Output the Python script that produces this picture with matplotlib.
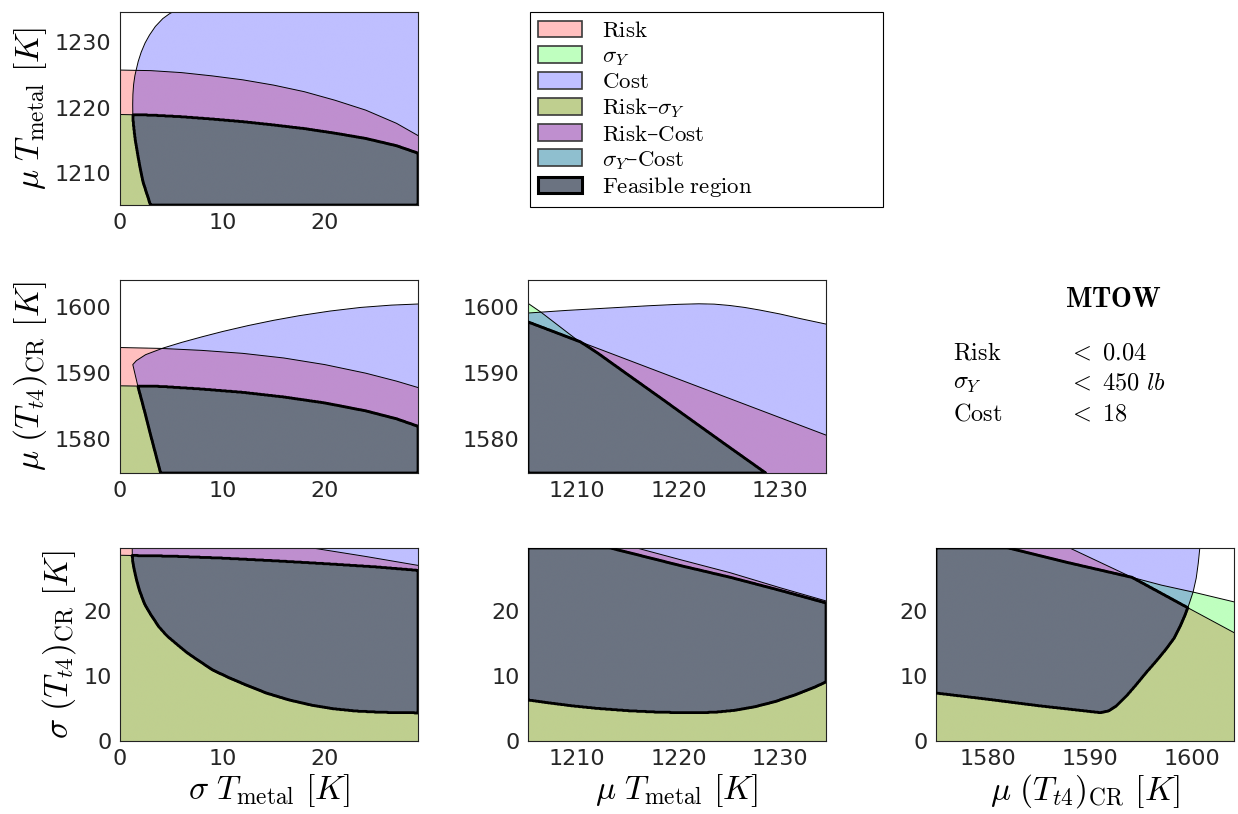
import numpy as np
import matplotlib
matplotlib.use("Agg")
import matplotlib.pyplot as plt
from matplotlib.path import Path
from matplotlib.patches import Patch
from matplotlib.colors import to_rgb

plt.rcParams["mathtext.fontset"] = "cm"
plt.rcParams["font.family"] = ["DejaVu Sans"]

# axis ranges of the four variables
sig_tmetal_lim = (0.0, 29.1)
mu_tmetal_lim = (1205.2, 1234.5)
mu_tt4_lim = (1574.9, 1604.1)
sig_tt4_lim = (0.0, 29.6)

# constraint boundaries, (x, y) pairs
# panel A: sigma T_metal (x) vs mu T_metal (y)
a_risk = [(-0.5, 1225.7), (3, 1225.6), (6, 1225.3), (9, 1224.8), (12, 1224.2), (15, 1223.4),
          (18, 1222.4), (21, 1221.1), (24, 1219.6), (27, 1217.6), (29.6, 1215.3)]
a_sigy = [(-0.5, 1218.95), (3, 1218.85), (6, 1218.6), (9, 1218.25), (12, 1217.85),
          (15, 1217.35), (18, 1216.8), (21, 1216.1), (24, 1215.3), (27, 1214.2), (29.6, 1212.8)]
a_cost = [(3.2, 1204.0), (3.04, 1204.9), (2.6, 1207.0), (2.23, 1208.8), (1.92, 1211.2),
          (1.67, 1213.4), (1.48, 1215.2), (1.35, 1216.9), (1.27, 1218.2), (1.25, 1219.0),
          (1.24, 1220.5), (1.26, 1222.0), (1.33, 1223.5), (1.45, 1224.8), (1.58, 1225.7),
          (1.78, 1227.0), (2.07, 1228.4), (2.45, 1229.8), (2.88, 1231.0), (3.45, 1232.3),
          (4.18, 1233.5), (4.8, 1234.2), (5.48, 1234.8), (6.6, 1235.6)]

# panel B: sigma T_metal (x) vs mu (T_t4)_CR (y)
b_risk = [(-0.5, 1593.9), (4, 1593.75), (8, 1593.45), (12, 1593.0), (16, 1592.3),
          (20, 1591.3), (24, 1590.0), (27, 1588.8), (29.6, 1587.6)]
b_sigy = [(-0.5, 1588.1), (4, 1588.0), (8, 1587.6), (12, 1587.1), (16, 1586.4),
          (20, 1585.5), (24, 1584.3), (27, 1583.1), (29.6, 1581.7)]
b_cost = [(4.05, 1574.4), (3.1, 1580.0), (2.27, 1585.0), (1.75, 1588.0), (1.25, 1591.3),
          (1.6, 1591.9), (2.5, 1592.8), (4.2, 1593.8), (6, 1594.65), (8, 1595.5),
          (10, 1596.3), (12.5, 1597.2), (15, 1598.0), (17.5, 1598.7), (20.5, 1599.4),
          (23.5, 1599.95), (26.5, 1600.3), (29.6, 1600.5)]

# panel C: mu T_metal (x) vs mu (T_t4)_CR (y)
c_risk = [(1204.7, 1598.05), (1220.0, 1589.1), (1234.9, 1580.4)]
c_sigy = [(1204.7, 1601.1), (1206.5, 1599.2), (1209.8, 1595.3), (1212, 1593.1),
          (1215, 1589.8), (1218.2, 1586.3), (1222, 1582.1), (1225, 1578.8),
          (1228.3, 1575.2), (1229, 1574.4)]
c_cost = [(1204.7, 1599.05), (1209, 1599.5), (1213, 1599.85), (1217, 1600.2),
          (1220, 1600.42), (1222, 1600.5), (1223.5, 1600.45), (1225, 1600.25),
          (1226.5, 1599.95), (1228, 1599.55), (1230, 1598.95), (1232, 1598.25),
          (1234.9, 1597.3)]

# panel D: sigma T_metal (x) vs sigma (T_t4)_CR (y)
d_risk = [(-0.5, 34.5), (10, 31.9), (19, 29.55), (24, 28.3), (29.6, 26.8)]
d_sigy = [(-0.5, 28.5), (5, 28.35), (10, 28.05), (15, 27.65), (20, 27.2), (25, 26.7),
          (29.6, 26.1)]
d_cost = [(1.19, 30.2), (1.2, 28.5), (1.22, 27.8), (1.3, 27.0), (1.41, 26.15), (1.6, 24.8),
          (1.9, 23.1), (2.4, 21.0), (3.0, 19.4), (3.8, 17.5), (4.6, 16.1), (5.5, 14.9),
          (6.5, 13.6), (7.7, 12.3), (9.0, 10.95), (10.5, 9.8), (12.3, 8.6), (14.3, 7.35),
          (16.5, 6.3), (18.7, 5.5), (20.8, 4.95), (23, 4.6), (25.5, 4.4), (29.6, 4.3)]

# panel E: mu T_metal (x) vs sigma (T_t4)_CR (y)
e_risk = [(1204.7, 34.6), (1210, 32.1), (1215.9, 29.6), (1220.2, 27.8), (1225.1, 25.8),
          (1230, 23.5), (1234.9, 21.3)]
e_sigy = [(1204.7, 33.0), (1213.3, 29.6), (1220.2, 26.9), (1225.1, 25.1), (1230, 23.1),
          (1234.9, 21.0)]
e_cost = [(1204.7, 6.4), (1207, 5.9), (1209.5, 5.4), (1212, 5.0), (1215, 4.65),
          (1218, 4.42), (1221, 4.33), (1223.5, 4.4), (1225.5, 4.7), (1227.5, 5.25),
          (1229.5, 6.05), (1231.5, 7.1), (1233.3, 8.2), (1234.9, 9.35)]

# panel F: mu (T_t4)_CR (x) vs sigma (T_t4)_CR (y)
f_risk = [(1574.5, 39.6), (1588.0, 29.6), (1594.1, 25.1), (1599.5, 20.5), (1604.6, 16.2)]
f_sigy = [(1574.5, 32.4), (1582.0, 29.6), (1588, 27.3), (1594.1, 25.1), (1597, 23.9),
          (1600.2, 22.8), (1604.6, 21.15)]
f_cost = [(1574.5, 7.43), (1580, 6.4), (1585, 5.4), (1591.0, 4.35), (1591.8, 4.6),
          (1592.6, 5.4), (1593.5, 6.8), (1594.5, 8.6), (1595.5, 10.5), (1596.5, 12.3),
          (1597.4, 14.0), (1598.2, 15.7), (1598.8, 17.5), (1599.3, 19.3), (1599.7, 21.0),
          (1600.1, 22.9), (1600.4, 25.0), (1600.6, 27.3), (1600.75, 29.6), (1600.8, 30.2)]

region_names = [r"$\mathrm{Risk}$", r"$\sigma_Y$", r"$\mathrm{Cost}$",
                r"$\mathrm{Risk}$–$\sigma_Y$", r"$\mathrm{Risk}$–$\mathrm{Cost}$",
                r"$\sigma_Y$–$\mathrm{Cost}$", r"$\mathrm{Feasible\ region}$"]
# index = risk*1 + sigma_Y*2 + cost*4 (which constraints are met)
palette_hex = ["#ffffff", "#ffbfbf", "#bfffbf", "#bfcf8f",
               "#bfbfff", "#bf8fcf", "#8fbfcf", "#6b7381"]
legend_codes = [1, 2, 4, 3, 5, 6, 7]

summary_names = [r"$\mathrm{Risk}$", r"$\sigma_Y$", r"$\mathrm{Cost}$"]
summary_limits = [r"$<\ 0.04$", r"$<\ 450\ lb$", r"$<\ 18$"]

lbl_sig_tmetal = r"$\sigma\ T_{\rm metal}\ [K]$"
lbl_mu_tmetal = r"$\mu\ T_{\rm metal}\ [K]$"
lbl_mu_tt4 = r"$\mu\ (T_{t4})_{\rm CR}\ [K]$"
lbl_sig_tt4 = r"$\sigma\ (T_{t4})_{\rm CR}\ [K]$"

palette = np.array([to_rgb(c) for c in palette_hex])
LABEL_FS = 24


def region_path(pts, side, xlim, ylim):
    wx = xlim[1] - xlim[0]
    wy = ylim[1] - ylim[0]
    lx, hx = xlim[0] - wx, xlim[1] + wx
    ly, hy = ylim[0] - wy, ylim[1] + wy
    (x0, y0), (x1, y1) = pts[0], pts[-1]
    tail = {
        "below": [(x1, ly), (x0, ly)],
        "above": [(x1, hy), (x0, hy)],
        "right": [(hx, y1), (hx, y0)],
        "bottom_right": [(hx, y1), (hx, ly), (x0, ly)],
        "top_right": [(hx, y1), (hx, hy), (x0, hy)],
        "top_left": [(x1, hy), (lx, hy), (lx, y0)],
    }[side]
    return Path(list(pts) + tail)


def draw_panel(ax, xlim, ylim, risk, sigy, cost, cost_side):
    xs = np.linspace(xlim[0], xlim[1], 700)
    ys = np.linspace(ylim[0], ylim[1], 460)
    gx, gy = np.meshgrid(xs, ys)
    pts = np.column_stack([gx.ravel(), gy.ravel()])
    ok_r = region_path(risk, "below", xlim, ylim).contains_points(pts)
    ok_s = region_path(sigy, "below", xlim, ylim).contains_points(pts)
    ok_c = region_path(cost, cost_side, xlim, ylim).contains_points(pts)
    code = (ok_r * 1 + ok_s * 2 + ok_c * 4).reshape(gx.shape)
    ax.imshow(palette[code], extent=(xlim[0], xlim[1], ylim[0], ylim[1]),
              origin="lower", aspect="auto", interpolation="antialiased", zorder=0)
    for curve in (risk, sigy, cost):
        cx, cy = zip(*curve)
        ax.plot(cx, cy, color="k", lw=0.7, zorder=2)
    # outline of the feasible region, padded so the edges close on the frame
    feas = np.pad((code == 7).astype(float), 1)
    ex = 1e-4 * (xlim[1] - xlim[0])
    ey = 1e-4 * (ylim[1] - ylim[0])
    px = np.concatenate([[xlim[0] - ex], xs, [xlim[1] + ex]])
    py = np.concatenate([[ylim[0] - ey], ys, [ylim[1] + ey]])
    ax.contour(px, py, feas, levels=[0.5], colors="k", linewidths=2.0, zorder=3)
    ax.set_xlim(xlim)
    ax.set_ylim(ylim)
    ax.tick_params(length=0, labelsize=16, colors="#262626", pad=6)
    for sp in ax.spines.values():
        sp.set_linewidth(0.8)
        sp.set_color("#222222")


fig = plt.figure(figsize=(12.38, 8.14), dpi=100)
W, H = 1238.0, 814.0
col_left = [120, 528, 936]
row_top = [12, 280, 548]
aw, ah = 298, 193


def add_ax(r, c):
    return fig.add_axes([col_left[c] / W, 1 - (row_top[r] + ah) / H, aw / W, ah / H])


ax_a = add_ax(0, 0)
draw_panel(ax_a, sig_tmetal_lim, mu_tmetal_lim, a_risk, a_sigy, a_cost, "right")
ax_a.set_xticks([0, 10, 20])
ax_a.set_yticks([1210, 1220, 1230])
ax_a.set_ylabel(lbl_mu_tmetal, fontsize=LABEL_FS, labelpad=4)

ax_b = add_ax(1, 0)
draw_panel(ax_b, sig_tmetal_lim, mu_tt4_lim, b_risk, b_sigy, b_cost, "bottom_right")
ax_b.set_xticks([0, 10, 20])
ax_b.set_yticks([1580, 1590, 1600])
ax_b.set_ylabel(lbl_mu_tt4, fontsize=LABEL_FS, labelpad=4)

ax_c = add_ax(1, 1)
draw_panel(ax_c, mu_tmetal_lim, mu_tt4_lim, c_risk, c_sigy, c_cost, "below")
ax_c.set_xticks([1210, 1220, 1230])
ax_c.set_yticks([1580, 1590, 1600])

ax_d = add_ax(2, 0)
draw_panel(ax_d, sig_tmetal_lim, sig_tt4_lim, d_risk, d_sigy, d_cost, "top_right")
ax_d.set_xticks([0, 10, 20])
ax_d.set_yticks([0, 10, 20])
ax_d.set_ylabel(lbl_sig_tt4, fontsize=LABEL_FS, labelpad=4)
ax_d.set_xlabel(lbl_sig_tmetal, fontsize=LABEL_FS, labelpad=2)

ax_e = add_ax(2, 1)
draw_panel(ax_e, mu_tmetal_lim, sig_tt4_lim, e_risk, e_sigy, e_cost, "above")
ax_e.set_xticks([1210, 1220, 1230])
ax_e.set_yticks([0, 10, 20])
ax_e.set_xlabel(lbl_mu_tmetal, fontsize=LABEL_FS, labelpad=2)

ax_f = add_ax(2, 2)
draw_panel(ax_f, mu_tt4_lim, sig_tt4_lim, f_risk, f_sigy, f_cost, "top_left")
ax_f.set_xticks([1580, 1590, 1600])
ax_f.set_yticks([0, 10, 20])
ax_f.set_xlabel(lbl_mu_tt4, fontsize=LABEL_FS, labelpad=2)

# legend
handles = []
for code in legend_codes:
    if code == 7:
        handles.append(Patch(facecolor=palette_hex[code], edgecolor="k", linewidth=2.2))
    else:
        handles.append(Patch(facecolor=palette_hex[code], edgecolor="#3a3a3a", linewidth=1.2))
leg = fig.legend(handles, region_names, loc="upper left",
                 bbox_to_anchor=(530 / W, 1 - 205 / H, 353 / W, 193 / H), mode="expand",
                 borderaxespad=0, fancybox=False, framealpha=1, edgecolor="k",
                 prop={"family": ["DejaVu Serif"], "size": 16.5},
                 handlelength=1.9, handleheight=0.75, handletextpad=0.9,
                 labelspacing=0.14, borderpad=0.35)
leg.get_frame().set_linewidth(0.8)

# constraint summary
fig.text(1113 / W, 1 - 306.7 / H, r"$\mathbf{MTOW}$", ha="center", va="baseline", fontsize=20)
for name, lim, yb in zip(summary_names, summary_limits, [359.3, 389.3, 420.7]):
    fig.text(953 / W, 1 - yb / H, name, ha="left", va="baseline", fontsize=17.5)
    fig.text(1068 / W, 1 - yb / H, lim, ha="left", va="baseline", fontsize=17.5)

fig.savefig("out.png", dpi=100)
